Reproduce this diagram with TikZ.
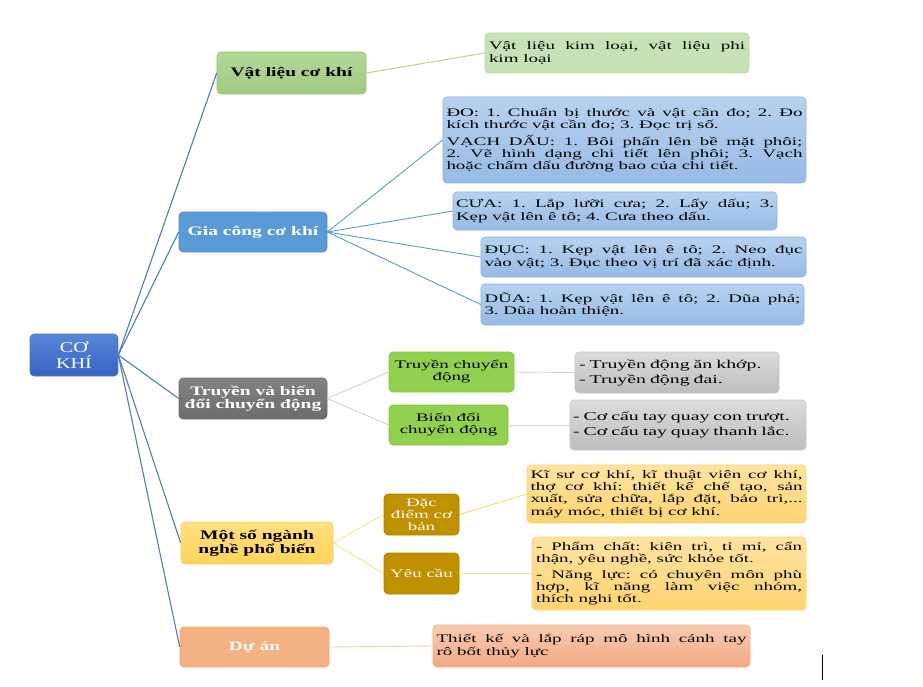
\documentclass[tikz,border=0pt]{standalone}
\usepackage{fontspec}
\setmainfont[FakeStretch=1.65]{Liberation Serif}
\newfontfamily\labfamily[FakeStretch=1.5]{Liberation Serif}
\newfontfamily\rootfamily[FakeStretch=1.35]{Liberation Serif}
\tolerance=9999 \hbadness=10000 \hyphenpenalty=10000 \exhyphenpenalty=10000
\frenchspacing
\definecolor{ckT}{HTML}{5A86D8}\definecolor{ckB}{HTML}{3562C2}\definecolor{ckD}{HTML}{4A74C9}
\definecolor{vlT}{HTML}{B3D79A}\definecolor{vlB}{HTML}{9FCB82}\definecolor{vlD}{HTML}{93BF76}
\definecolor{vlL}{HTML}{C8E2B7}\definecolor{vlLD}{HTML}{B8D7A3}
\definecolor{gcF}{HTML}{5B9BD5}\definecolor{gcD}{HTML}{4F8FCB}
\definecolor{blT}{HTML}{B8D2F0}\definecolor{blB}{HTML}{96BBE6}\definecolor{blD}{HTML}{8EB1DC}
\definecolor{tbT}{HTML}{828282}\definecolor{tbB}{HTML}{6C6C6C}
\definecolor{grF}{HTML}{92D050}\definecolor{grD}{HTML}{84C440}
\definecolor{gyT}{HTML}{DCDCDC}\definecolor{gyB}{HTML}{BDBDBD}\definecolor{gyD}{HTML}{C4C4C4}
\definecolor{msT}{HTML}{FFE082}\definecolor{msB}{HTML}{FFD45A}\definecolor{msD}{HTML}{F5CF5E}
\definecolor{ddF}{HTML}{BF9000}\definecolor{ddD}{HTML}{B08400}
\definecolor{ylT}{HTML}{FFE3A2}\definecolor{ylB}{HTML}{FFD470}\definecolor{ylD}{HTML}{F7D27A}
\definecolor{daF}{HTML}{F4B183}\definecolor{daD}{HTML}{EEA677}
\definecolor{dlT}{HTML}{F9CDB0}\definecolor{dlB}{HTML}{F4A884}\definecolor{dlD}{HTML}{F0AE85}
\definecolor{cMain}{HTML}{4A7EBB}\definecolor{cBlue}{HTML}{5B9BD5}
\definecolor{cGreen}{HTML}{A9D18E}\definecolor{cGray}{HTML}{D2D2D2}
\definecolor{cYel}{HTML}{FFE08A}\definecolor{cYel2}{HTML}{FFD966}\definecolor{cSal}{HTML}{F8CBAD}
\begin{document}
\begin{tikzpicture}[x=1pt,y=-1pt,
  box/.style={rounded corners=4pt, inner sep=0pt, line width=0.6pt},
  sz/.style 2 args={minimum width=#1pt, minimum height=#2pt},
  body/.style={font=\fontsize{11.5}{12.2}\selectfont},
  lab/.style={font=\labfamily\bfseries\fontsize{13}{13.5}\selectfont, align=center},
  sub/.style={font=\fontsize{11.5}{12}\selectfont, align=center},
  leaf/.style={box, body, align=justify},
  leafl/.style={box, font=\fontsize{12}{13}\selectfont, align=left},
  conn/.style={line width=1.1pt, draw=cMain},
  c2/.style={line width=0.9pt, draw=#1}]
\useasboundingbox (0,0) rectangle (923,687);

% root
\node[box, sz={88}{42}, top color=ckT, bottom color=ckB, draw=ckD, text=white,
  font=\rootfamily\fontsize{15}{15.5}\selectfont, align=center] (ck) at (74,355) {CƠ\\KHÍ};

% main branches
\node[box, sz={149}{42}, top color=vlT, bottom color=vlB, draw=vlD, lab] (vl) at (291.5,73) {Vật liệu cơ khí};
\node[box, sz={148}{40}, fill=gcF, draw=gcD, lab, text=white] (gc) at (253,232) {Gia công cơ khí};
\node[box, sz={148}{41}, top color=tbT, bottom color=tbB, draw=tbB, lab, text=white] (tb) at (253,398.5) {Truyền và biến\\đổi chuyển động};
\node[box, sz={152}{42}, top color=msT, bottom color=msB, draw=msD, lab] (ms) at (257,543) {Một số ngành\\nghề phổ biến};
\node[box, sz={149}{40}, fill=daF, draw=daD, lab, text=white] (da) at (254.5,647) {Dự án};

% vat lieu leaf
\node[leaf, sz={264}{40}, fill=vlL, draw=vlLD, text width=256pt] (vlL) at (617,53)
  {Vật liệu kim loại, vật liệu phi\linebreak kim loại};

% gia cong leaves
\node[leaf, sz={363}{86}, top color=blT, bottom color=blB, draw=blD, text width=356pt] (do) at (624.5,140)
  {ĐO: 1. Chuẩn bị thước và vật cần đo; 2. Đo\linebreak kích thước vật cần đo; 3. Đọc trị số.\par\vspace{4.5pt}
   VẠCH DẤU: 1. Bôi phấn lên bề mặt phôi;\linebreak 2. Vẽ hình dạng chi tiết lên phôi; 3. Vạch\linebreak hoặc chấm dấu đường bao của chi tiết.};
\node[leaf, sz={324}{38}, top color=blT, bottom color=blB, draw=blD, text width=318pt] (cua) at (615,211)
  {CƯA: 1. Lắp lưỡi cưa; 2. Lấy dấu; 3.\linebreak Kẹp vật lên ê tô; 4. Cưa theo dấu.};
\node[leaf, sz={325}{40}, top color=blT, bottom color=blB, draw=blD, text width=318pt] (duc) at (643.5,257)
  {ĐỤC: 1. Kẹp vật lên ê tô; 2. Neo đục\linebreak vào vật; 3. Đục theo vị trí đã xác định.};
\node[leaf, sz={323}{41}, top color=blT, bottom color=blB, draw=blD, text width=316pt] (dua) at (642.5,304.5)
  {DŨA: 1. Kẹp vật lên ê tô; 2. Dũa phá;\linebreak 3. Dũa hoàn thiện.};

% truyen chuyen dong
\node[box, sz={125}{40}, fill=grF, draw=grD, sub] (tc) at (451.5,372) {Truyền chuyển\\động};
\node[box, sz={119}{40}, fill=grF, draw=grD, sub] (bd) at (448.5,425) {Biến đổi\\chuyển động};
\node[leafl, sz={204}{41}, top color=gyT, bottom color=gyB, draw=gyD, text width=196pt] (tcL) at (677,372.5)
  {- Truyền động ăn khớp.\\[2pt]- Truyền động đai.};
\node[leafl, sz={236}{50}, top color=gyT, bottom color=gyB, draw=gyD, text width=230pt] (bdL) at (688,425)
  {- Cơ cấu tay quay con trượt.\\[2pt]- Cơ cấu tay quay thanh lắc.};

% nganh nghe
\node[box, sz={75}{41}, fill=ddF, draw=ddD, text=white, align=center, font=\fontsize{11.5}{11.8}\selectfont] (dd) at (421.5,514.5) {Đặc\\điểm cơ\\bản};
\node[box, sz={75}{41}, fill=ddF, draw=ddD, sub, text=white] (yc) at (421.5,573.5) {Yêu cầu};
\node[leaf, sz={279}{58}, top color=ylT, bottom color=ylB, draw=ylD, text width=272pt] (ddL) at (666.5,494)
  {Kĩ sư cơ khí, kĩ thuật viên cơ khí,\linebreak thợ cơ khí: thiết kế chế tạo, sản\linebreak xuất, sửa chữa, lắp đặt, bảo trì,...\linebreak máy móc, thiết bị cơ khí.};
\node[leaf, sz={274}{73}, top color=ylT, bottom color=ylB, draw=ylD, text width=266pt] (ycL) at (669,573.5)
  {- Phẩm chất: kiên trì, tỉ mỉ, cẩn\linebreak thận, yêu nghề, sức khỏe tốt.\par\vspace{3.5pt}
   - Năng lực: có chuyên môn phù\linebreak hợp, kĩ năng làm việc nhóm,\linebreak thích nghi tốt.};

% du an
\node[leaf, sz={317}{42}, top color=dlT, bottom color=dlB, draw=dlD, text width=310pt] (daL) at (591.5,646)
  {Thiết kế và lắp ráp mô hình cánh tay\linebreak rô bốt thủy lực};

% connectors
\draw[conn] (ck.east) -- (vl.west);
\draw[conn] (ck.east) -- (gc.west);
\draw[conn] (ck.east) -- (tb.west);
\draw[conn] (ck.east) -- (ms.west);
\draw[conn] (ck.east) -- (da.west);
\draw[c2=cGreen] (vl.east) -- (vlL.west);
\draw[c2=cBlue] (gc.east) -- (do.west);
\draw[c2=cBlue] (gc.east) -- (cua.west);
\draw[c2=cBlue] (gc.east) -- (duc.west);
\draw[c2=cBlue] (gc.east) -- (dua.west);
\draw[c2=cGray] (tb.east) -- (tc.west);
\draw[c2=cGray] (tb.east) -- (bd.west);
\draw[c2=cGray] (tc.east) -- (tcL.west);
\draw[c2=cGray] (bd.east) -- (bdL.west);
\draw[c2=cYel] (ms.east) -- (dd.west);
\draw[c2=cYel] (ms.east) -- (yc.west);
\draw[c2=cYel2] (dd.east) -- (ddL.west);
\draw[c2=cYel] (yc.east) -- (ycL.west);
\draw[c2=cSal] (da.east) -- (daL.west);

% stray cursor mark
\coordinate (m1) at (822,655);
\coordinate (m2) at (822,680);
\draw[line width=0.9pt] (m1) -- (m2);
\end{tikzpicture}
\end{document}
